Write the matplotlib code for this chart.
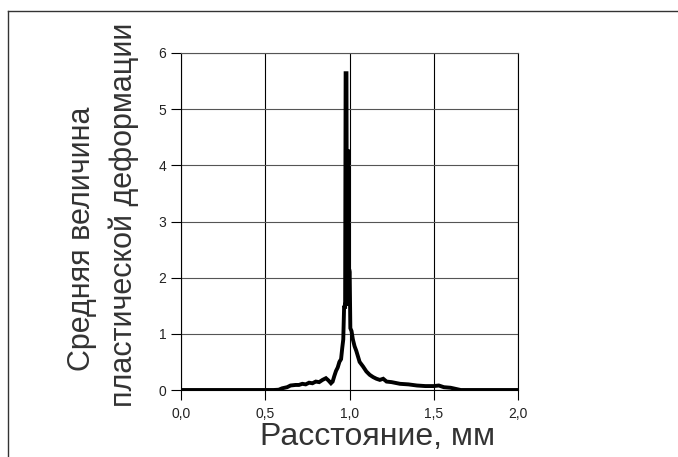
import matplotlib
matplotlib.use("Agg")

import matplotlib.pyplot as plt
from matplotlib.lines import Line2D
from matplotlib.ticker import FuncFormatter

plt.rcParams["font.family"] = ["Liberation Sans", "DejaVu Sans"]

# distance along the profile, mm
distance = [0.0, 0.55, 0.58, 0.60, 0.63, 0.65, 0.68, 0.70, 0.72, 0.74,
            0.76, 0.78, 0.80, 0.82, 0.84, 0.86, 0.875, 0.89, 0.90, 0.91,
            0.92, 0.93, 0.94, 0.95, 0.957, 0.963, 0.968, 0.971, 0.974, 0.977,
            0.982, 0.985, 0.988, 0.992, 0.995, 0.998, 1.001, 1.005, 1.012, 1.02,
            1.03, 1.04, 1.05, 1.06, 1.08, 1.10, 1.12, 1.14, 1.16, 1.18,
            1.20, 1.22, 1.25, 1.30, 1.35, 1.40, 1.45, 1.50, 1.53, 1.56,
            1.60, 1.63, 1.66, 1.70, 2.0]
# mean plastic strain
strain = [0.0, 0.0, 0.005, 0.03, 0.05, 0.08, 0.09, 0.09, 0.11, 0.10,
          0.13, 0.12, 0.15, 0.14, 0.18, 0.21, 0.17, 0.12, 0.15, 0.25,
          0.34, 0.40, 0.50, 0.55, 0.75, 0.90, 1.48, 1.50, 1.45, 5.64,
          5.64, 1.50, 4.25, 4.25, 1.50, 2.15, 2.10, 1.10, 1.05, 0.90,
          0.78, 0.70, 0.60, 0.50, 0.42, 0.33, 0.27, 0.23, 0.20, 0.18,
          0.20, 0.15, 0.14, 0.11, 0.10, 0.08, 0.07, 0.07, 0.08, 0.05,
          0.04, 0.02, 0.0, 0.0, 0.0]

x_ticks = [0.0, 0.5, 1.0, 1.5, 2.0]
y_ticks = [0, 1, 2, 3, 4, 5, 6]

W, H = 678, 457
fig = plt.figure(figsize=(W / 100, H / 100), dpi=100)
ax = fig.add_axes([181 / W, 1 - 390 / H, (518 - 181) / W, (390 - 53) / H])

ax.plot(distance, strain, color="black", lw=2.8, solid_joinstyle="miter", zorder=3)

ax.set_xlim(0, 2)
ax.set_ylim(0, 6)
ax.set_xticks(x_ticks)
ax.set_yticks(y_ticks)
ax.xaxis.set_major_formatter(FuncFormatter(lambda v, p: f"{v:.1f}".replace(".", ",")))
ax.yaxis.set_major_formatter(FuncFormatter(lambda v, p: f"{v:.0f}"))
ax.tick_params(direction="out", length=7.5, width=0.8, labelsize=10,
               colors="black", labelcolor="#222222")
ax.tick_params(axis="x", pad=5)
ax.tick_params(axis="y", pad=3)

ax.xaxis.grid(True, color="black", lw=0.8)
ax.yaxis.grid(True, color="#555555", lw=0.8)
for s in ax.spines.values():
    s.set_color("#555555")
    s.set_linewidth(0.8)
ax.spines["left"].set_color("black")
ax.spines["bottom"].set_color("black")
ax.spines["right"].set_color("black")

fig.text(378 / W, 1 - 437 / H, "Расстояние, мм", fontsize=23,
         color="#333333", ha="center", va="center")
fig.text(82 / W, 1 - 239 / H, "Средняя величина", fontsize=22,
         color="#333333", ha="center", va="center", rotation=90)
fig.text(124 / W, 1 - 215 / H, "пластической деформации", fontsize=22,
         color="#333333", ha="center", va="center", rotation=90)

# outer frame around the chart area
fig.add_artist(Line2D([7.5 / W, 7.5 / W], [0, 1 - 10.5 / H], color="#333333", lw=1.0))
fig.add_artist(Line2D([7.5 / W, 1], [1 - 10.5 / H, 1 - 10.5 / H], color="#333333", lw=1.0))

fig.savefig("out.png", dpi=100)
